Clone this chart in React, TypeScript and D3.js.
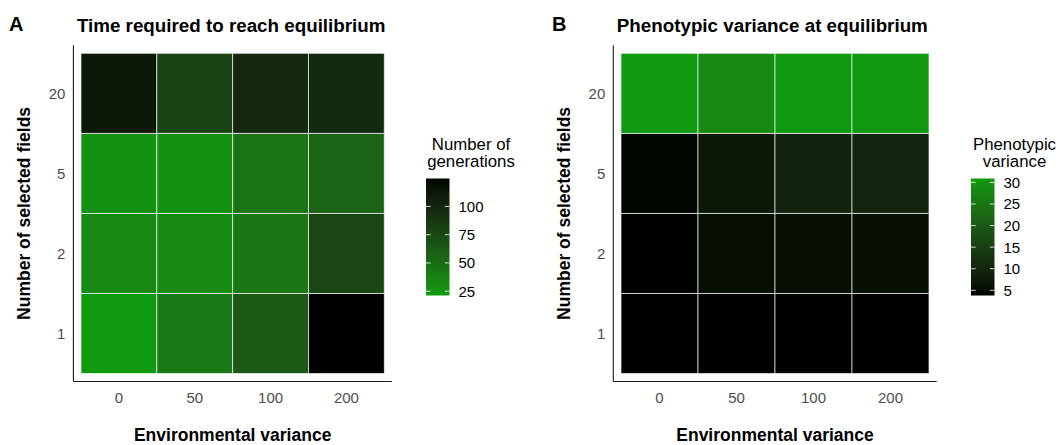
import React from "react";
import * as d3 from "d3";

// Categories
const envVariance = ["0", "50", "100", "200"];
const selectedFields = ["1", "2", "5", "20"];

// Panel A: number of generations to reach equilibrium (per number of selected fields, across env. variance)
const timeFields1 = [21.2, 42, 63.6, 124.7];
const timeFields2 = [31.5, 32, 44, 77];
const timeFields5 = [27.4, 27, 45, 56];
const timeFields20 = [112, 79, 98.8, 97];

// Panel B: phenotypic variance at equilibrium
const varFields1 = [3.8, 3.8, 3.9, 3.85];
const varFields2 = [3.9, 5.4, 5.6, 5.7];
const varFields5 = [4.6, 7.1, 9.8, 10.0];
const varFields20 = [30.9, 28.2, 30.9, 30.6];

// Legend ticks
const timeTicks = [25, 50, 75, 100];
const varTicks = [5, 10, 15, 20, 25, 30];

const GREEN = "#109a10";
const BLACK = "#000000";
const FONT = "'Liberation Sans', Arial, sans-serif";

type Cell = { x: string; y: string; v: number };

function toCells(rows: number[][]): Cell[] {
  const out: Cell[] = [];
  rows.forEach((row, ri) => {
    row.forEach((v, ci) => out.push({ x: envVariance[ci], y: selectedFields[ri], v }));
  });
  return out;
}

type PanelProps = {
  id: string;
  letter: string;
  letterX: number;
  title: string;
  cells: Cell[];
  low: string;
  high: string;
  left: number;
  right: number;
  top: number;
  bottom: number;
  yTitleX: number;
  legendX: number;
  legendTitle: string[];
  legendTitleX: number;
  ticks: number[];
};

function Panel(p: PanelProps) {
  const x = d3.scaleBand<string>().domain(envVariance).range([p.left, p.right]).paddingInner(0).paddingOuter(0.1);
  const y = d3.scaleBand<string>().domain(selectedFields).range([p.bottom, p.top]).paddingInner(0).paddingOuter(0.1);
  const ext = d3.extent(p.cells, (d) => d.v) as [number, number];
  const color = d3.scaleLinear<string>().domain(ext).range([p.low, p.high]).interpolate(d3.interpolateLab);

  const barTop = 178.5;
  const barBottom = 295.5;
  const barW = 23.5;
  const ly = d3.scaleLinear().domain(ext).range([barBottom, barTop]);
  const stops = d3.range(0, 1.0001, 0.05);
  const gid = `grad-${p.id}`;
  const cx = (p.left + p.right) / 2;
  const cy = (p.top + p.bottom) / 2;

  return (
    <g>
      <defs>
        <linearGradient id={gid} x1="0" y1="1" x2="0" y2="0">
          {stops.map((s) => (
            <stop key={s} offset={s} stopColor={color(ext[0] + s * (ext[1] - ext[0]))} />
          ))}
        </linearGradient>
      </defs>
      <text x={p.letterX} y={31} fontFamily={FONT} fontWeight="bold" fontSize={20} fill="#000">
        {p.letter}
      </text>
      <text x={p.left + 3.5} y={31.5} fontFamily={FONT} fontWeight="bold" fontSize={18.8} fill="#000">
        {p.title}
      </text>
      {p.cells.map((d, i) => (
        <rect
          key={i}
          x={x(d.x)}
          y={y(d.y)}
          width={x.bandwidth()}
          height={y.bandwidth()}
          fill={color(d.v)}
          stroke="#ffffff"
          strokeOpacity={0.65}
          strokeWidth={1}
        />
      ))}
      <line x1={p.left} x2={p.left} y1={p.top} y2={p.bottom} stroke="#1a1a1a" strokeWidth={1.1} />
      <line x1={p.left} x2={p.right} y1={p.bottom} y2={p.bottom} stroke="#1a1a1a" strokeWidth={1.1} />
      {envVariance.map((e) => (
        <text
          key={e}
          x={(x(e) as number) + x.bandwidth() / 2}
          y={402.5}
          textAnchor="middle"
          fontFamily={FONT}
          fontSize={15}
          fill="#4d4d4d"
        >
          {e}
        </text>
      ))}
      {selectedFields.map((f) => (
        <text
          key={f}
          x={p.left - 8}
          y={(y(f) as number) + y.bandwidth() / 2}
          dy="0.36em"
          textAnchor="end"
          fontFamily={FONT}
          fontSize={15}
          fill="#4d4d4d"
        >
          {f}
        </text>
      ))}
      <text x={cx} y={440.5} textAnchor="middle" fontFamily={FONT} fontWeight="bold" fontSize={17.5} fill="#000">
        Environmental variance
      </text>
      <text
        transform={`translate(${p.yTitleX},${cy}) rotate(-90)`}
        textAnchor="middle"
        dy="0.36em"
        fontFamily={FONT}
        fontWeight="bold"
        fontSize={17.5}
        fill="#000"
      >
        Number of selected fields
      </text>
      {/* legend */}
      {p.legendTitle.map((t, i) => (
        <text
          key={t}
          x={p.legendTitleX}
          y={149.5 + i * 17.5}
          textAnchor="middle"
          fontFamily={FONT}
          fontSize={16.8}
          fill="#000"
        >
          {t}
        </text>
      ))}
      <rect x={p.legendX} y={barTop} width={barW} height={barBottom - barTop} fill={`url(#${gid})`} />
      {p.ticks.map((t) => (
        <g key={t}>
          <line x1={p.legendX} x2={p.legendX + barW / 5} y1={ly(t)} y2={ly(t)} stroke="#fff" strokeOpacity={0.8} />
          <line
            x1={p.legendX + barW - barW / 5}
            x2={p.legendX + barW}
            y1={ly(t)}
            y2={ly(t)}
            stroke="#fff"
            strokeOpacity={0.8}
          />
          <text x={p.legendX + barW + 9} y={ly(t)} dy="0.36em" fontFamily={FONT} fontSize={15} fill="#000">
            {t}
          </text>
        </g>
      ))}
    </g>
  );
}

export default function App() {
  const timeCells = toCells([timeFields1, timeFields2, timeFields5, timeFields20]);
  const varCells = toCells([varFields1, varFields2, varFields5, varFields20]);
  return (
    <svg
      width={1059}
      height={445}
      style={{ position: "absolute", left: 0, top: 0, background: "#fff" }}
    >
      <rect x={0} y={0} width={1059} height={445} fill="#fff" />
      <Panel
        id="a"
        letter="A"
        letterX={9}
        title="Time required to reach equilibrium"
        cells={timeCells}
        low={GREEN}
        high={BLACK}
        left={73.4}
        right={391.9}
        top={45.3}
        bottom={381.5}
        yTitleX={24}
        legendX={426}
        legendTitle={["Number of", "generations"]}
        legendTitleX={471}
        ticks={timeTicks}
      />
      <Panel
        id="b"
        letter="B"
        letterX={552}
        title="Phenotypic variance at equilibrium"
        cells={varCells}
        low={BLACK}
        high={GREEN}
        left={613.3}
        right={936.7}
        top={45.3}
        bottom={381.5}
        yTitleX={563.5}
        legendX={971}
        legendTitle={["Phenotypic", "variance"]}
        legendTitleX={1014.5}
        ticks={varTicks}
      />
    </svg>
  );
}
